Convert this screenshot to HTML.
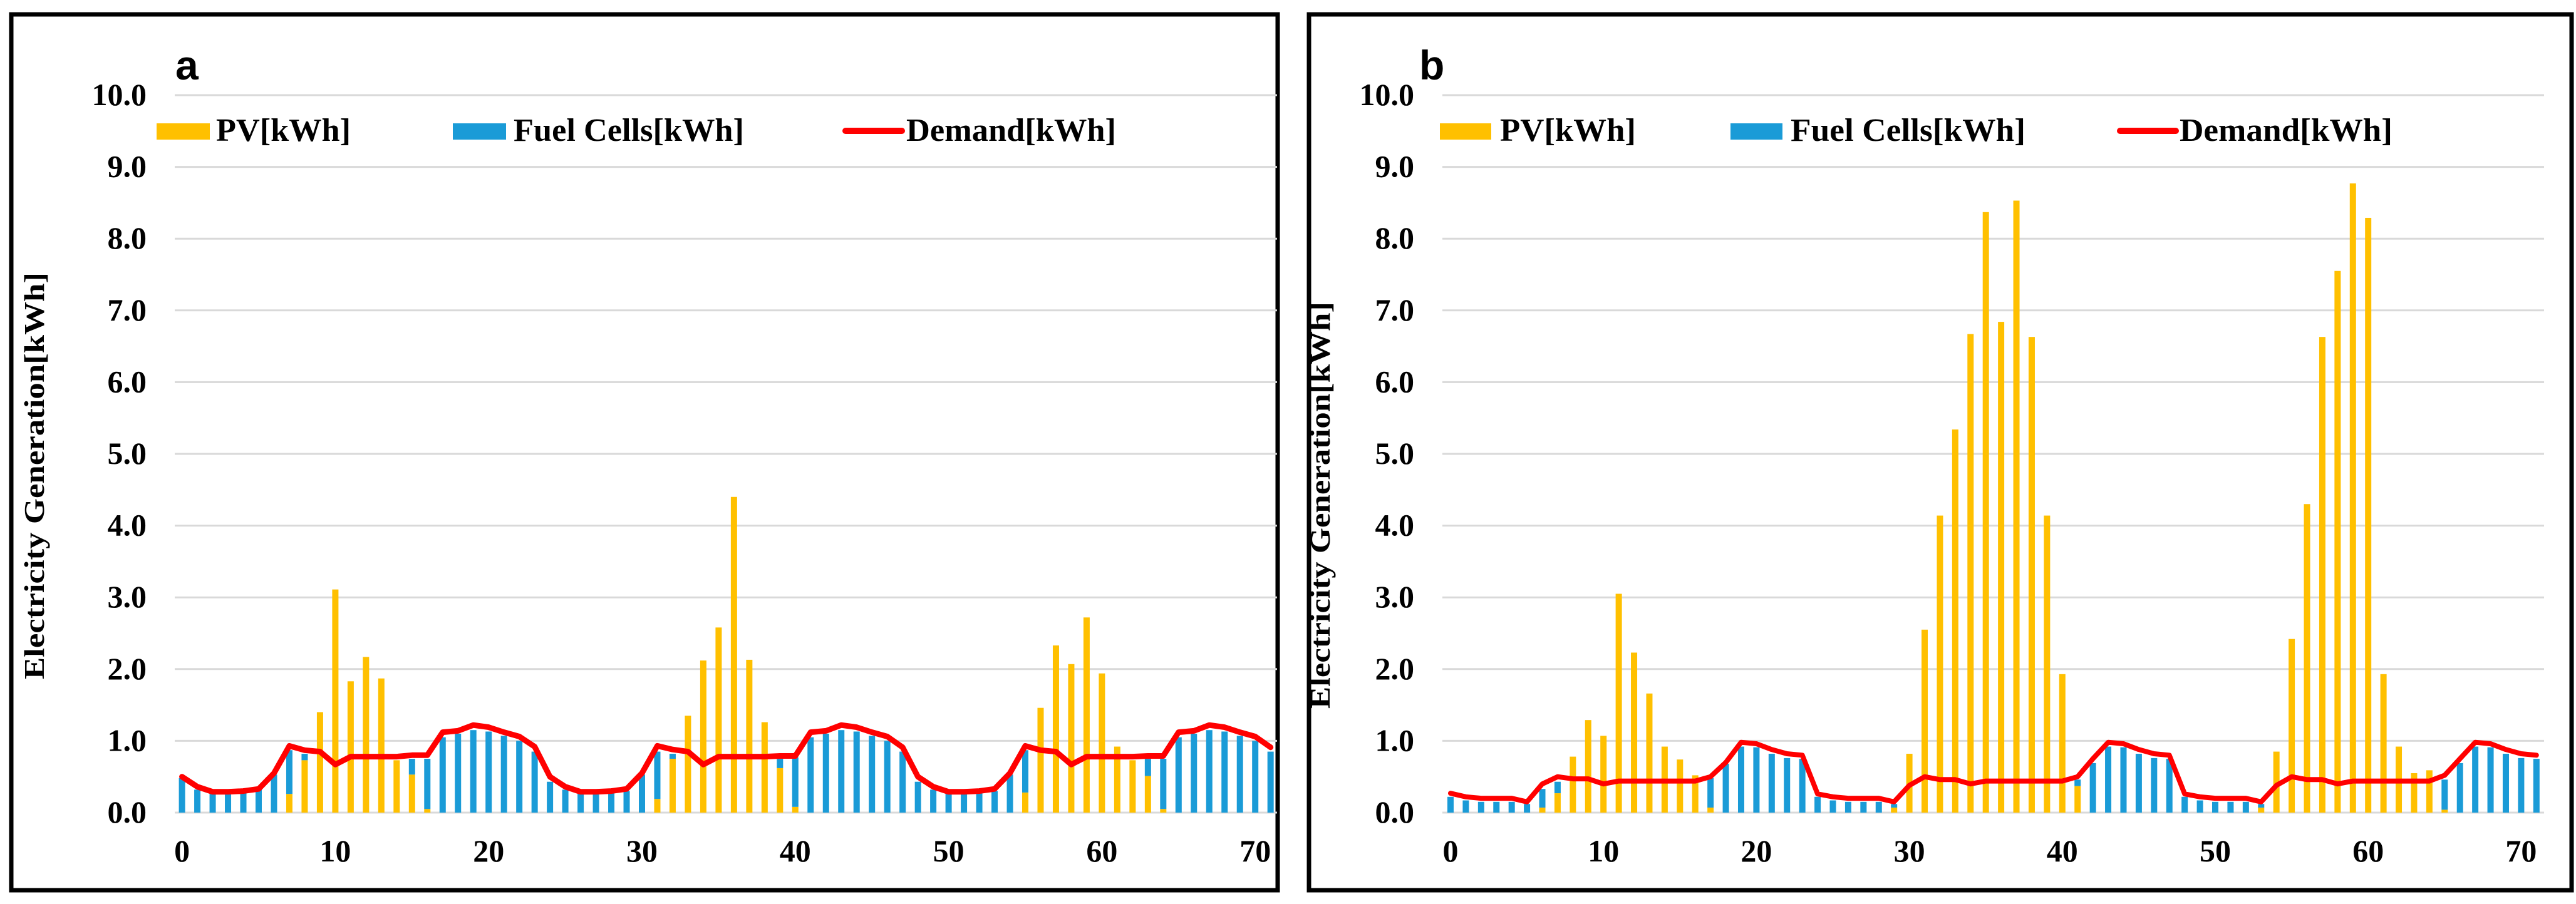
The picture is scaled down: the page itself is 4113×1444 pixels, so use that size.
<!DOCTYPE html>
<html><head><meta charset="utf-8"><style>
html,body{margin:0;padding:0;background:#fff;}
svg{display:block;}
text{font-family:"Liberation Serif",serif;font-weight:bold;fill:#000;}
</style></head><body>
<svg id="chart" width="4113" height="1444" viewBox="0 0 4113 1444" xmlns="http://www.w3.org/2000/svg"></svg>
<script>
// ---- Panel a data ----
const hoursA = Array.from({length:72},(_,i)=>i);
const pvA = [0,0,0,0,0,0,0,0.26,0.73,1.40,3.11,1.83,2.17,1.87,0.73,0.53,0.05,0,0,0,0,0,0,0,
             0,0,0,0,0,0,0,0.19,0.75,1.35,2.12,2.58,4.40,2.13,1.26,0.62,0.08,0,0,0,0,0,0,0,
             0,0,0,0,0,0,0,0.28,1.46,2.33,2.07,2.72,1.94,0.92,0.73,0.51,0.05,0,0,0,0,0,0,0];
const fcA = [0.48,0.32,0.28,0.28,0.30,0.32,0.53,0.61,0.09,0,0,0,0,0,0,0.22,0.70,1.05,1.10,1.15,1.13,1.07,1.00,0.85,
             0.43,0.32,0.28,0.28,0.29,0.30,0.53,0.66,0.07,0,0,0,0,0,0,0.13,0.69,1.05,1.10,1.15,1.13,1.07,1.00,0.85,
             0.43,0.32,0.28,0.28,0.29,0.30,0.53,0.59,0,0,0,0,0,0,0,0.24,0.70,1.05,1.10,1.15,1.13,1.07,1.00,0.85];
const demandA = [0.50,0.36,0.29,0.29,0.30,0.33,0.55,0.93,0.87,0.85,0.67,0.78,0.78,0.78,0.78,0.80,0.80,1.12,1.14,1.22,1.19,1.12,1.06,0.92,
                 0.50,0.36,0.29,0.29,0.30,0.33,0.55,0.93,0.88,0.85,0.67,0.78,0.78,0.78,0.78,0.79,0.79,1.12,1.14,1.22,1.19,1.12,1.06,0.91,
                 0.50,0.36,0.29,0.29,0.30,0.33,0.55,0.93,0.87,0.85,0.67,0.78,0.78,0.78,0.78,0.79,0.79,1.12,1.14,1.22,1.19,1.12,1.06,0.91];
// ---- Panel b data ----
const pvB = [0,0,0,0,0,0,0.07,0.27,0.78,1.29,1.07,3.05,2.23,1.66,0.92,0.74,0.52,0.07,0,0,0,0,0,0,
             0,0,0,0,0,0.07,0.82,2.55,4.14,5.34,6.67,8.37,6.84,8.53,6.63,4.14,1.93,0.37,0,0,0,0,0,0,
             0,0,0,0,0,0.07,0.85,2.42,4.30,6.63,7.55,8.77,8.29,1.93,0.92,0.55,0.59,0.04,0,0,0,0,0,0];
const fcB = [0.22,0.17,0.15,0.15,0.15,0.12,0.26,0.16,0,0,0,0,0,0,0,0,0,0.41,0.68,0.92,0.91,0.82,0.76,0.75,
             0.22,0.17,0.15,0.15,0.15,0.05,0,0,0,0,0,0,0,0,0,0,0,0.09,0.69,0.92,0.91,0.82,0.76,0.75,
             0.22,0.17,0.15,0.15,0.15,0.05,0,0,0,0,0,0,0,0,0,0,0,0.42,0.69,0.92,0.91,0.82,0.76,0.75];
const demandB = [0.27,0.22,0.20,0.20,0.20,0.15,0.40,0.50,0.47,0.47,0.40,0.44,0.44,0.44,0.44,0.44,0.44,0.50,0.70,0.98,0.96,0.88,0.82,0.80,
                 0.26,0.22,0.20,0.20,0.20,0.15,0.38,0.50,0.46,0.46,0.40,0.44,0.44,0.44,0.44,0.44,0.44,0.50,0.75,0.98,0.96,0.88,0.82,0.80,
                 0.26,0.22,0.20,0.20,0.20,0.15,0.38,0.50,0.46,0.46,0.40,0.44,0.44,0.44,0.44,0.44,0.44,0.52,0.75,0.98,0.96,0.88,0.82,0.80];
const yTicks = ["0.0","1.0","2.0","3.0","4.0","5.0","6.0","7.0","8.0","9.0","10.0"];
const xTicks = [0,10,20,30,40,50,60,70];
const legendLabels = ["PV[kWh]","Fuel Cells[kWh]","Demand[kWh]"];

const NS="http://www.w3.org/2000/svg";
const svg=document.getElementById('chart');
function mk(tag,attrs,parent,txt){const e=document.createElementNS(NS,tag);for(const k in attrs)e.setAttribute(k,attrs[k]);if(txt!==undefined)e.textContent=txt;(parent||svg).appendChild(e);return e;}

function panel(cfg){
  const g=mk('g',{});
  
  
  const xs=i=>cfg.x0+i*cfg.step;
  const ys=v=>cfg.y0-v*cfg.unit;
  const fr=mk('rect',{x:cfg.bx,y:23,width:cfg.bw,height:1399,fill:'none',stroke:'#000','stroke-width':7},g);
  
  
  yTicks.forEach((t,i)=>{
    const y=ys(+t);
    const gl=mk('line',{x1:cfg.gx1,x2:cfg.gx2,y1:y,y2:y,stroke:'#d9d9d9','stroke-width':3},g);
    
    
    const tl=mk('text',{x:cfg.ylx,y:y+16,'text-anchor':'end','font-size':50},g,t);
    
    
  });
  xTicks.forEach(t=>{
    const tl=mk('text',{x:xs(t),y:1376,'text-anchor':'middle','font-size':50},g,String(t));
    
    
  });
  const bw=10;
  cfg.hours.forEach((h,i)=>{
    const p=cfg.pv[i], f=cfg.fc[i];
    if(p>0){const r=mk('rect',{x:xs(h)-bw/2,y:ys(p),width:bw,height:p*cfg.unit,fill:'#FFC000'},g);
      
      }
    if(f>0){const r=mk('rect',{x:xs(h)-bw/2,y:ys(p+f),width:bw,height:f*cfg.unit,fill:'#1A9BD7'},g);
      
      }
  });
  const pts=cfg.hours.map((h,i)=>xs(h).toFixed(1)+','+ys(cfg.dem[i]).toFixed(1)).join(' ');
  const pl=mk('polyline',{points:pts,fill:'none',stroke:'#FF0000','stroke-width':cfg.lw,'stroke-linejoin':'round','stroke-linecap':'round'},g);
  
  
  const ti=mk('text',{x:cfg.tx,y:127,'font-size':66,style:'font-family:"Liberation Sans",sans-serif;font-weight:bold'},g,cfg.id);
  
  
  const yt=mk('text',{x:0,y:0,'text-anchor':'middle','font-size':46,textLength:650,lengthAdjust:'spacingAndGlyphs',transform:`translate(${cfg.ytx},${cfg.yty}) rotate(-90)`},g,'Electricity Generation[kWh]');
  
  
  const L=cfg.leg;
  const l1=mk('g',{},g);
  
  
  mk('rect',{x:L[0],y:197,width:L[1]-L[0],height:26,fill:'#FFC000'},l1);
  mk('text',{x:L[2],y:225,'font-size':52,textLength:L[3]-L[2],lengthAdjust:'spacingAndGlyphs'},l1,legendLabels[0]);
  const l2=mk('g',{},g);
  
  
  mk('rect',{x:L[4],y:197,width:L[5]-L[4],height:26,fill:'#1A9BD7'},l2);
  mk('text',{x:L[6],y:225,'font-size':52,textLength:L[7]-L[6],lengthAdjust:'spacingAndGlyphs'},l2,legendLabels[1]);
  const l3=mk('g',{},g);
  
  
  mk('line',{x1:L[8],x2:L[9],y1:209,y2:209,stroke:'#FF0000','stroke-width':10,'stroke-linecap':'round'},l3);
  mk('text',{x:L[10],y:225,'font-size':52,textLength:L[11]-L[10],lengthAdjust:'spacingAndGlyphs'},l3,legendLabels[2]);
}

panel({id:'a',hours:hoursA,pv:pvA,fc:fcA,dem:demandA,x0:290.6,step:24.48,y0:1298,unit:114.6,
  bx:18,bw:2022,gx1:279,gx2:2039,ylx:234,lw:9,tx:280,ytx:70,yty:760,
  leg:[250,335,345,560,723,808,820,1188,1350,1440,1447,1782]});
panel({id:'b',hours:hoursA,pv:pvB,fc:fcB,dem:demandB,x0:2316,step:24.42,y0:1298,unit:114.6,
  bx:2090,bw:2016,gx1:2303,gx2:4062,ylx:2258,lw:8,tx:2266,ytx:2123,yty:807,
  leg:[2299,2381,2395,2612,2763,2846,2859,3234,3385,3474,3480,3820]});
</script>
</body></html>
